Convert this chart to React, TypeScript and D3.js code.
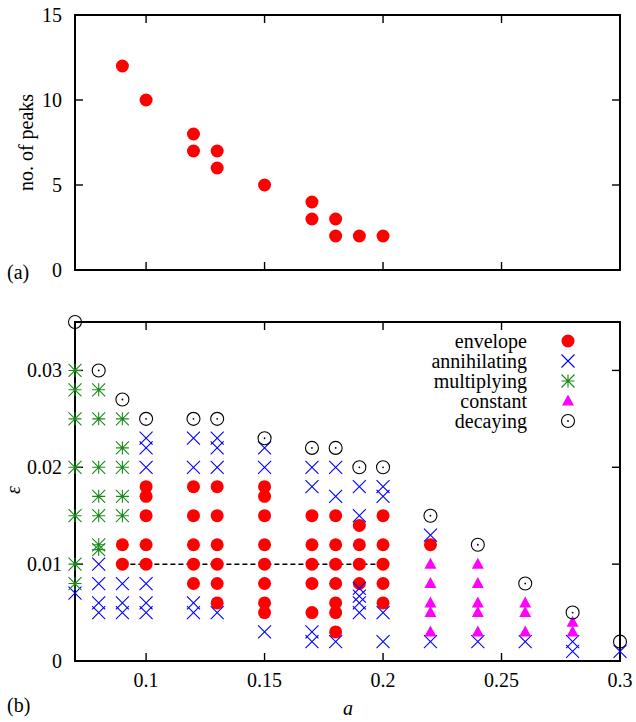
import React from 'react';
import * as d3 from 'd3';

// top panel: number of peaks vs a
const peaksA = [0.09, 0.1, 0.12, 0.12, 0.13, 0.13, 0.15, 0.17, 0.17, 0.18, 0.18, 0.19, 0.2];
const peaksN = [12, 10, 8, 7, 7, 6, 5, 4, 3, 3, 2, 2, 2];

// bottom panel: [a, epsilon] per regime
const envelope: [number, number][] = [
    [0.09, 0.012], [0.09, 0.010],
    [0.1, 0.018], [0.1, 0.017], [0.1, 0.015], [0.1, 0.012], [0.1, 0.010],
    [0.12, 0.018], [0.12, 0.015], [0.12, 0.012], [0.12, 0.010], [0.12, 0.008],
    [0.13, 0.018], [0.13, 0.015], [0.13, 0.012], [0.13, 0.010], [0.13, 0.008], [0.13, 0.006],
    [0.15, 0.018], [0.15, 0.017], [0.15, 0.015], [0.15, 0.012], [0.15, 0.010], [0.15, 0.008], [0.15, 0.006], [0.15, 0.005],
    [0.17, 0.015], [0.17, 0.012], [0.17, 0.010], [0.17, 0.008], [0.17, 0.005],
    [0.18, 0.015], [0.18, 0.012], [0.18, 0.010], [0.18, 0.008], [0.18, 0.006], [0.18, 0.005], [0.18, 0.003],
    [0.19, 0.014], [0.19, 0.012], [0.19, 0.010], [0.19, 0.008],
    [0.2, 0.015], [0.2, 0.012], [0.2, 0.010], [0.2, 0.008], [0.2, 0.006],
    [0.22, 0.012],
];
const annihilating: [number, number][] = [
    [0.07, 0.007],
    [0.08, 0.010], [0.08, 0.008], [0.08, 0.006], [0.08, 0.005],
    [0.09, 0.008], [0.09, 0.006], [0.09, 0.005],
    [0.1, 0.023], [0.1, 0.022], [0.1, 0.020], [0.1, 0.008], [0.1, 0.006], [0.1, 0.005],
    [0.12, 0.023], [0.12, 0.020], [0.12, 0.006], [0.12, 0.005],
    [0.13, 0.023], [0.13, 0.022], [0.13, 0.020], [0.13, 0.005],
    [0.15, 0.022], [0.15, 0.020], [0.15, 0.003],
    [0.17, 0.020], [0.17, 0.018], [0.17, 0.003], [0.17, 0.002],
    [0.18, 0.020], [0.18, 0.017], [0.18, 0.002],
    [0.19, 0.018], [0.19, 0.015], [0.19, 0.0075], [0.19, 0.0067], [0.19, 0.006], [0.19, 0.005],
    [0.2, 0.018], [0.2, 0.017], [0.2, 0.005], [0.2, 0.002],
    [0.22, 0.013], [0.22, 0.002],
    [0.24, 0.002], [0.26, 0.002],
    [0.28, 0.002], [0.28, 0.001],
    [0.3, 0.001],
];
const multiplying: [number, number][] = [
    [0.07, 0.030], [0.07, 0.028], [0.07, 0.025], [0.07, 0.020], [0.07, 0.015], [0.07, 0.010], [0.07, 0.008],
    [0.08, 0.028], [0.08, 0.025], [0.08, 0.020], [0.08, 0.017], [0.08, 0.015], [0.08, 0.012], [0.08, 0.0115],
    [0.09, 0.025], [0.09, 0.022], [0.09, 0.020], [0.09, 0.017], [0.09, 0.015],
];
const constant: [number, number][] = [
    [0.22, 0.010], [0.22, 0.008], [0.22, 0.006], [0.22, 0.005], [0.22, 0.003],
    [0.24, 0.010], [0.24, 0.008], [0.24, 0.006], [0.24, 0.005], [0.24, 0.003],
    [0.26, 0.006], [0.26, 0.005], [0.26, 0.003],
    [0.28, 0.004], [0.28, 0.003],
];
const decaying: [number, number][] = [
    [0.07, 0.035], [0.08, 0.030], [0.09, 0.027], [0.1, 0.025], [0.12, 0.025], [0.13, 0.025],
    [0.15, 0.023], [0.17, 0.022], [0.18, 0.022], [0.19, 0.020], [0.2, 0.020],
    [0.22, 0.015], [0.24, 0.012], [0.26, 0.008], [0.28, 0.005], [0.3, 0.002],
];
const dashA = [0.09, 0.2];
const dashEps = 0.01;

const xTicks = [0.1, 0.15, 0.2, 0.25, 0.3];
const peakTicks = [0, 5, 10, 15];
const epsTicks = [0, 0.01, 0.02, 0.03];
const legendLabels = ['envelope', 'annihilating', 'multiplying', 'constant', 'decaying'];

const FONT = 'Liberation Serif, Times New Roman, DejaVu Serif, serif';
const FS = 20;
const TICK = 8;
const R = 6.5;

const left = 75, right = 620;
const topPanel = {top: 15, bottom: 270};
const botPanel = {top: 322, bottom: 661};

const x = d3.scaleLinear().domain([0.07, 0.3]).range([left, right]);
const yPeaks = d3.scaleLinear().domain([0, 15]).range([topPanel.bottom, topPanel.top]);
const yEps = d3.scaleLinear().domain([0, 0.035]).range([botPanel.bottom, botPanel.top]);

const txt = {fontFamily: FONT, fontSize: FS};

// marker glyphs, centred at 0,0
const Marker = ({kind}: {kind: string}) => {
    if (kind === 'envelope') return <circle r={R} fill="#ff0000"/>;
    if (kind === 'annihilating') {
        const s = R;
        return <path d={`M${-s},${-s}L${s},${s}M${-s},${s}L${s},${-s}`} stroke="#0000ff" strokeWidth={1.1} fill="none"/>;
    }
    if (kind === 'multiplying') {
        const s = R;
        return <path d={`M${-s},${-s}L${s},${s}M${-s},${s}L${s},${-s}M${-s},0L${s},0M0,${-s}L0,${s}`}
                     stroke="#1a8a1a" strokeWidth={1.1} fill="none"/>;
    }
    if (kind === 'constant') return <path d="M0,-6.5L6,4.5L-6,4.5Z" fill="#ff00ff"/>;
    return <g>
        <circle r={R} fill="none" stroke="#000" strokeWidth={1.1}/>
        <circle r={0.9} fill="#000"/>
    </g>;
};

const Frame = ({top, bottom, yScale, yTicks, fmt, showX}: any) => {
    return <g>
        {xTicks.map((t) => <g key={'x' + t}>
            <line x1={x(t)} x2={x(t)} y1={bottom} y2={bottom - TICK} stroke="#000" strokeWidth={1.4}/>
            <line x1={x(t)} x2={x(t)} y1={top} y2={top + TICK} stroke="#000" strokeWidth={1.4}/>
            {showX && <text x={x(t)} y={bottom + 26} textAnchor="middle" style={txt}>{t}</text>}
        </g>)}
        {yTicks.map((t: number) => <g key={'y' + t}>
            <line x1={left} x2={left + TICK} y1={yScale(t)} y2={yScale(t)} stroke="#000" strokeWidth={1.4}/>
            <line x1={right} x2={right - TICK} y1={yScale(t)} y2={yScale(t)} stroke="#000" strokeWidth={1.4}/>
            <text x={left - 13} y={yScale(t)} dy="0.34em" textAnchor="end" style={txt}>{fmt(t)}</text>
        </g>)}
        <rect x={left} y={top} width={right - left} height={bottom - top} fill="none" stroke="#000" strokeWidth={2}/>
    </g>;
};

const series: [string, [number, number][]][] = [
    ['envelope', envelope],
    ['annihilating', annihilating],
    ['multiplying', multiplying],
    ['constant', constant],
    ['decaying', decaying],
];

export default function App() {
    return <svg width={636} height={722} style={{position: 'absolute', left: 0, top: 0, background: '#fff'}}>
        {/* (a) peaks */}
        <Frame top={topPanel.top} bottom={topPanel.bottom} yScale={yPeaks} yTicks={peakTicks}
               fmt={(t: number) => String(t)} showX={false}/>
        {peaksA.map((a, i) => <circle key={'p' + i} cx={x(a)} cy={yPeaks(peaksN[i])} r={R} fill="#ff0000"/>)}
        <text transform={`translate(33,${(topPanel.top + topPanel.bottom) / 2}) rotate(-90)`} textAnchor="middle"
              style={txt}>no. of peaks</text>
        <text x={7} y={279} style={txt}>(a)</text>

        {/* (b) regimes */}
        <Frame top={botPanel.top} bottom={botPanel.bottom} yScale={yEps} yTicks={epsTicks}
               fmt={(t: number) => (t === 0 ? '0' : d3.format('.2f')(t))} showX={true}/>
        <line x1={x(dashA[0])} x2={x(dashA[1])} y1={yEps(dashEps)} y2={yEps(dashEps)}
              stroke="#000" strokeWidth={1.5} strokeDasharray="5,3"/>
        {series.map(([kind, pts]) => <g key={kind}>
            {pts.map((p, i) => <g key={i} transform={`translate(${x(p[0])},${yEps(p[1])})`}>
                <Marker kind={kind}/>
            </g>)}
        </g>)}
        {legendLabels.map((l, i) => <g key={l}>
            <text x={527} y={341 + i * 20} dy="0.33em" textAnchor="end" style={txt}>{l}</text>
            <g transform={`translate(568,${341 + i * 20})`}><Marker kind={l}/></g>
        </g>)}
        <text transform={`translate(20,490) rotate(-90)`} textAnchor="middle" style={{...txt, fontStyle: 'italic'}}>ε</text>
        <text x={348} y={715} textAnchor="middle" style={{...txt, fontStyle: 'italic'}}>a</text>
        <text x={7} y={712} style={txt}>(b)</text>
    </svg>;
}
